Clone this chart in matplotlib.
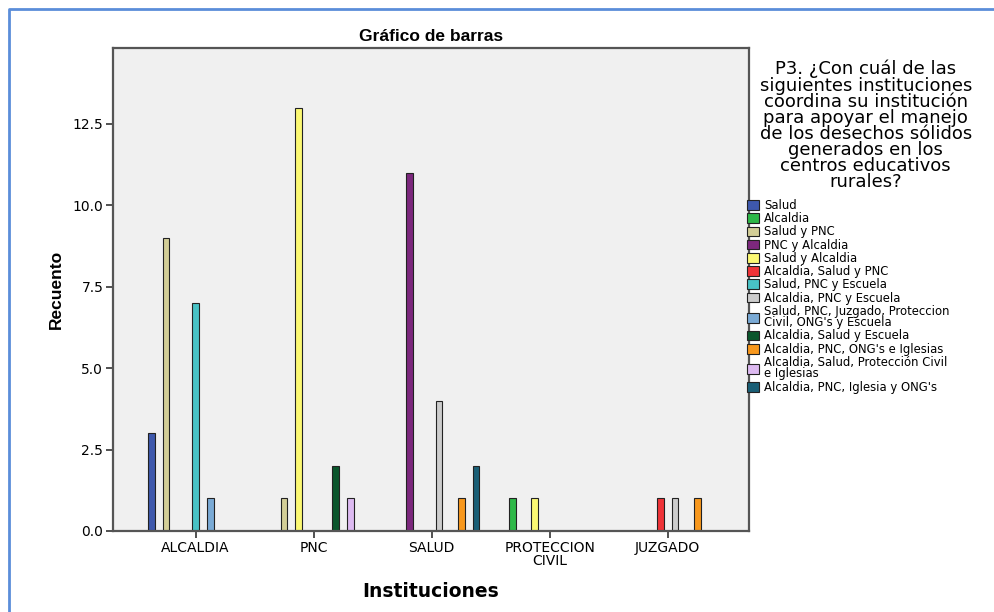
import numpy as np
import matplotlib.pyplot as plt
from matplotlib.patches import Rectangle

categorias = ['ALCALDIA', 'PNC', 'SALUD', 'PROTECCION\nCIVIL', 'JUZGADO']

series = [
    'Salud',
    'Alcaldia',
    'Salud y PNC',
    'PNC y Alcaldia',
    'Salud y Alcaldia',
    'Alcaldia, Salud y PNC',
    'Salud, PNC y Escuela',
    'Alcaldia, PNC y Escuela',
    'Salud, PNC, Juzgado, Proteccion\nCivil, ONG\'s y Escuela',
    'Alcaldia, Salud y Escuela',
    'Alcaldia, PNC, ONG\'s e Iglesias',
    'Alcaldia, Salud, Protección Civil\ne Iglesias',
    'Alcaldia, PNC, Iglesia y ONG\'s',
]

# recuento por serie, en orden de categorias
recuento = [
    [3, 0, 0, 0, 0],
    [0, 0, 0, 1, 0],
    [9, 1, 0, 0, 0],
    [0, 0, 11, 0, 0],
    [0, 13, 0, 1, 0],
    [0, 0, 0, 0, 1],
    [7, 0, 0, 0, 0],
    [0, 0, 4, 0, 1],
    [1, 0, 0, 0, 0],
    [0, 2, 0, 0, 0],
    [0, 0, 1, 0, 1],
    [0, 1, 0, 0, 0],
    [0, 0, 2, 0, 0],
]

colores = ['#3E58AC', '#2EB848', '#D3CE97', '#7C287D', '#FBF873', '#EF3338',
           '#48C2C5', '#CCCCCC', '#7AAAD5', '#0A562C', '#F8981D', '#DDBAF1',
           '#1A5F76']

titulo_leyenda = ('P3. ¿Con cuál de las\nsiguientes instituciones\ncoordina su institución\n'
                  'para apoyar el manejo\nde los desechos sólidos\ngenerados en los\n'
                  'centros educativos\nrurales?')

plt.rcParams['font.family'] = ['DejaVu Sans']

fig = plt.figure(figsize=(9.94, 6.12), dpi=100)
ax = fig.add_axes([0.1137, 0.1324, 0.6398, 0.7892])
ax.set_facecolor('#F0F0F0')

x = np.arange(len(categorias))
paso = 0.0628
ancho = 0.058
handles = []
for i, (nombre, vals, c) in enumerate(zip(series, recuento, colores)):
    vals = np.array(vals, dtype=float)
    pos = x + (i - 6) * paso
    mask = vals > 0
    ax.bar(pos[mask], vals[mask], width=ancho, color=c,
           edgecolor='#222222', linewidth=0.8)
    handles.append(Rectangle((0, 0), 1, 1, facecolor=c, edgecolor='#222222', linewidth=0.8))

ax.set_xlim(-0.70, 4.69)
ax.set_ylim(0, 14.83)
ax.set_yticks([0, 2.5, 5, 7.5, 10, 12.5])
ax.set_yticklabels(['0.0', '2.5', '5.0', '7.5', '10.0', '12.5'])
ax.set_xticks(x)
ax.set_xticklabels(categorias, linespacing=0.92)
ax.tick_params(axis='both', labelsize=10, length=5, width=1.2, color='#333333', pad=2)

for s in ax.spines.values():
    s.set_color('#555555')
    s.set_linewidth(1.6)

ax.set_title('Gráfico de barras', fontsize=12.5, fontweight='bold', pad=5,
             family=['Liberation Sans'])
ax.set_ylabel('Recuento', fontsize=12.5, fontweight='bold', labelpad=6,
              family=['Liberation Sans'])
ax.set_xlabel('Instituciones', fontsize=13.5, fontweight='bold', labelpad=10)

fig.text(0.871, 0.902, titulo_leyenda, ha='center', va='top', fontsize=13,
         linespacing=0.86)

leg = fig.legend(handles, series, loc='upper left', bbox_to_anchor=(0.752, 0.675),
                 frameon=False, fontsize=8.4, handlelength=1.0, handleheight=0.9,
                 handletextpad=0.4, labelspacing=0.02, borderaxespad=0, borderpad=0)
for t in leg.get_texts():
    t.set_linespacing(0.85)

# marco azul exterior
fig.add_artist(plt.Line2D([0.009, 0.009, 1.0], [0.0, 0.985, 0.985],
                          transform=fig.transFigure, color='#5B8DD9', linewidth=2))

fig.savefig('out.png', dpi=100)
